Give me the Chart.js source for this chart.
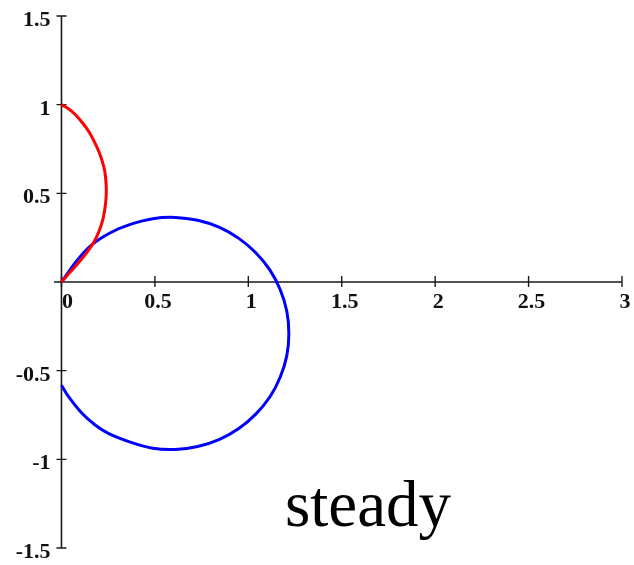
<!DOCTYPE html>
<html>
<head>
<meta charset="utf-8">
<title>steady</title>
<script src="https://cdn.jsdelivr.net/npm/chart.js@4/dist/chart.umd.min.js"></script>
<style>
  html, body { margin: 0; padding: 0; background: #ffffff; }
  #wrap { position: relative; width: 634px; height: 565px; }
</style>
</head>
<body>
<div id="wrap"><canvas id="c" width="634" height="565"></canvas></div>
<script>
// Red path: from (0, 1) bowing right and back to the origin
const redX = [0, 0.038, 0.075, 0.112, 0.146, 0.175, 0.200, 0.219, 0.232, 0.238, 0.240, 0.237, 0.230, 0.221, 0.207, 0.188, 0.164, 0.138, 0.111, 0.084, 0.057, 0.028, 0];
const redY = [1, 0.977, 0.943, 0.898, 0.849, 0.793, 0.736, 0.679, 0.623, 0.566, 0.510, 0.453, 0.397, 0.350, 0.303, 0.255, 0.209, 0.170, 0.134, 0.100, 0.068, 0.034, 0];

// Blue path: from the origin, clockwise round to (0, -0.58)
const blueX = [0, 0.078, 0.160, 0.262, 0.372, 0.489, 0.609, 0.729, 0.843, 0.949, 1.040, 1.116, 1.171, 1.206, 1.217, 1.206, 1.171, 1.116, 1.040, 0.949, 0.843, 0.729, 0.609, 0.489, 0.372, 0.253, 0.182, 0.111, 0.039, 0];
const blueY = [0, 0.115, 0.208, 0.278, 0.326, 0.357, 0.364, 0.348, 0.309, 0.246, 0.165, 0.067, -0.044, -0.165, -0.290, -0.415, -0.536, -0.647, -0.745, -0.826, -0.889, -0.928, -0.944, -0.937, -0.904, -0.855, -0.808, -0.742, -0.648, -0.582];

// Axis ticks and their labels
const xTicks = [0, 0.5, 1, 1.5, 2, 2.5, 3];
const xTickLabels = ['0', '0.5', '1', '1.5', '2', '2.5', '3'];
const yTicks = [1.5, 1, 0.5, -0.5, -1, -1.5];
const yTickLabels = ['1.5', '1', '0.5', '-0.5', '-1', '-1.5'];

const caption = 'steady';

function toPoints(xs, ys) {
  return xs.map((x, i) => ({ x: x, y: ys[i] }));
}

// Axes drawn through the origin, with tick marks and serif labels
const crossAxes = {
  id: 'crossAxes',
  beforeDatasetsDraw(chart) {
    const ctx = chart.ctx;
    const sx = chart.scales.x, sy = chart.scales.y;
    const x0 = sx.getPixelForValue(0), y0 = sy.getPixelForValue(0);
    ctx.save();
    ctx.strokeStyle = '#1a1a1a';
    ctx.lineWidth = 1.6;
    ctx.beginPath();
    ctx.moveTo(sx.left, y0); ctx.lineTo(sx.right, y0);
    ctx.moveTo(x0, sy.top); ctx.lineTo(x0, sy.bottom);
    ctx.stroke();

    ctx.lineWidth = 1.4;
    ctx.beginPath();
    xTicks.forEach(v => {
      const px = sx.getPixelForValue(v);
      ctx.moveTo(px, y0 - 6); ctx.lineTo(px, y0 + 5);
    });
    yTicks.forEach(v => {
      const py = sy.getPixelForValue(v);
      ctx.moveTo(x0 - 5, py); ctx.lineTo(x0 + 5, py);
    });
    ctx.stroke();

    ctx.fillStyle = '#111111';
    ctx.font = 'bold 22px "Liberation Serif", "Times New Roman", serif';
    ctx.textAlign = 'center';
    ctx.textBaseline = 'alphabetic';
    xTicks.forEach((v, i) => {
      const px = sx.getPixelForValue(v);
      ctx.fillText(xTickLabels[i], px + (v === 0 ? 6 : 3), y0 + 26);
    });
    ctx.textAlign = 'right';
    yTicks.forEach((v, i) => {
      const py = sy.getPixelForValue(v);
      ctx.fillText(yTickLabels[i], x0 - 11, py + 10);
    });

    ctx.font = '65px "Liberation Serif", "Times New Roman", serif';
    ctx.textAlign = 'left';
    ctx.fillStyle = '#000000';
    ctx.fillText(caption, 285, 526);
    ctx.restore();
  }
};

new Chart(document.getElementById('c'), {
  type: 'scatter',
  data: {
    datasets: [
      {
        data: toPoints(redX, redY),
        showLine: true,
        borderColor: '#ff0000',
        borderWidth: 3,
        pointRadius: 0,
        tension: 0.3,
        fill: false
      },
      {
        data: toPoints(blueX, blueY),
        showLine: true,
        borderColor: '#0000ff',
        borderWidth: 3,
        pointRadius: 0,
        tension: 0.3,
        fill: false
      }
    ]
  },
  options: {
    responsive: false,
    animation: false,
    events: [],
    layout: { padding: { left: 54, right: 12, top: 16, bottom: 17 } },
    plugins: { legend: { display: false }, tooltip: { enabled: false } },
    scales: {
      x: { type: 'linear', min: -0.04, max: 3, display: false },
      y: { type: 'linear', min: -1.5, max: 1.5, display: false }
    }
  },
  plugins: [crossAxes]
});
</script>
</body>
</html>
